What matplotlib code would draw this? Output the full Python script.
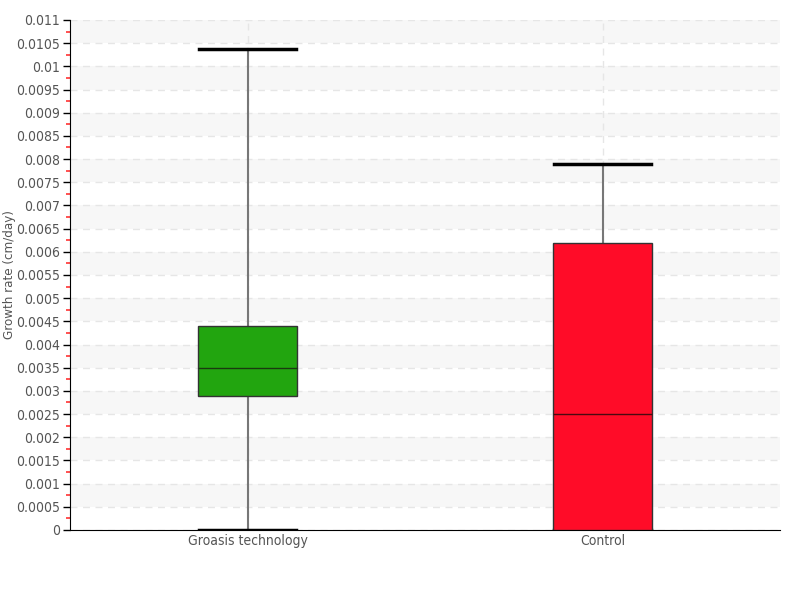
import numpy as np
import matplotlib.pyplot as plt
from matplotlib.ticker import MultipleLocator, FuncFormatter

plt.rcParams['font.family'] = ['DejaVu Sans']
plt.rcParams['font.stretch'] = 'condensed'

# Datos de los diagramas de caja
categories = ['Groasis technology', 'Control']
whisker_low = [0.0, 0.0]
q1 = [0.0029, 0.0]
median = [0.0035, 0.0025]
q3 = [0.0044, 0.0062]
whisker_high = [0.01038, 0.00789]
box_colors = ['#22a50f', '#ff0c28']

stats = []
for i, name in enumerate(categories):
    stats.append({'label': name, 'whislo': whisker_low[i], 'q1': q1[i],
                  'med': median[i], 'q3': q3[i], 'whishi': whisker_high[i],
                  'fliers': []})

fig = plt.figure(figsize=(8, 6), dpi=100)
ax = fig.add_axes([0.0875, 0.1167, 0.8875, 0.85])

# Bandas alternas de fondo
step = 0.0005
ymax = 0.011
for k in range(1, 22, 2):
    ax.axhspan(k * step, (k + 1) * step, color='#f7f7f7', zorder=0, lw=0)

bp = ax.bxp(stats, positions=[0, 1], widths=0.28, patch_artist=True,
            showfliers=False,
            boxprops=dict(edgecolor='#333333', linewidth=1),
            medianprops=dict(color='#1a3a10', linewidth=1),
            whiskerprops=dict(color='#777777', linewidth=1.5),
            capprops=dict(color='black', linewidth=2.5),
            capwidths=0.275)
for patch, c in zip(bp['boxes'], box_colors):
    patch.set_facecolor(c)
    patch.set_zorder(3)
for m in bp['medians']:
    m.set_zorder(4)
bp['medians'][1].set_color('#4a0a10')

ax.set_xlim(-0.5, 1.5)
ax.set_ylim(0, ymax)
ax.yaxis.set_major_locator(MultipleLocator(step))
ax.yaxis.set_minor_locator(MultipleLocator(step / 2))
ax.yaxis.set_major_formatter(FuncFormatter(lambda v, p: ('%.4f' % v).rstrip('0').rstrip('.') if v else '0'))
ax.set_xticks([0, 1])
ax.set_xticklabels(categories)

ax.grid(True, axis='y', which='major', linestyle=(0, (5, 4)), color='#e6e6e6', lw=1)
ax.grid(True, axis='x', linestyle=(0, (5, 4)), color='#e6e6e6', lw=1)
ax.set_axisbelow(True)

ax.tick_params(axis='y', which='major', length=5, width=1, color='black',
               labelsize=10, labelcolor='#555555', pad=2)
ax.tick_params(axis='y', which='minor', length=3, width=1.2, color='#ff3333')
ax.tick_params(axis='x', length=0, labelsize=10, labelcolor='#555555', pad=3)

for s in ['top', 'right']:
    ax.spines[s].set_visible(False)
ax.spines['left'].set_color('black')
ax.spines['bottom'].set_color('black')

ax.set_ylabel('Growth rate (cm/day)', fontsize=9.5, color='#555555')
ax.yaxis.set_label_coords(-0.076, 0.5)

fig.savefig('out.png', dpi=100)
